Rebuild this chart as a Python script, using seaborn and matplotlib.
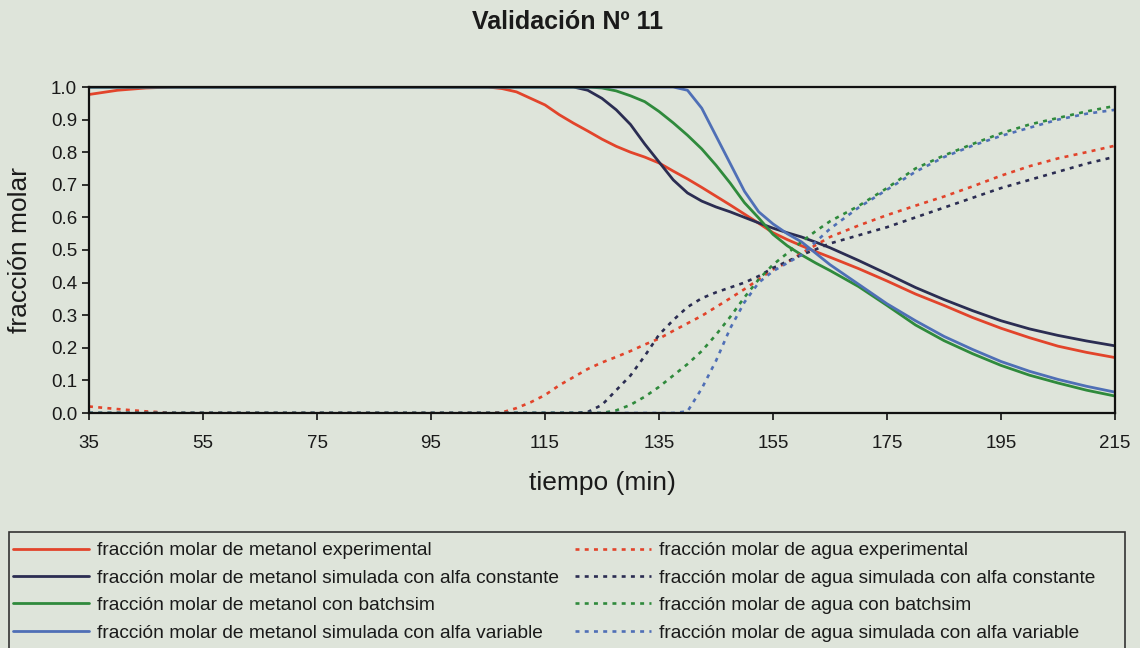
import numpy as np
import pandas as pd
import matplotlib
matplotlib.use("Agg")
import matplotlib.pyplot as plt
from matplotlib.patches import Rectangle
import seaborn as sns

# time grid (min): coarse before 105, finer through the transition, coarse after 165
tiempo = [35, 40, 45, 50, 55, 60, 65, 70, 75, 80, 85, 90, 95, 100, 105,
          107.5, 110, 112.5, 115, 117.5, 120, 122.5, 125, 127.5, 130, 132.5, 135,
          137.5, 140, 142.5, 145, 147.5, 150, 152.5, 155, 157.5, 160, 162.5, 165,
          170, 175, 180, 185, 190, 195, 200, 205, 210, 215]

# methanol mole fraction
metanol_exp = [0.977, 0.990, 0.997, 1.0, 1.0, 1.0, 1.0, 1.0, 1.0, 1.0, 1.0, 1.0, 1.0, 1.0, 1.0,
               0.995, 0.985, 0.965, 0.945, 0.915, 0.889, 0.865, 0.840, 0.818, 0.800, 0.785, 0.767,
               0.742, 0.718, 0.692, 0.665, 0.638, 0.610, 0.582, 0.553, 0.532, 0.513, 0.495, 0.478,
               0.443, 0.405, 0.365, 0.330, 0.293, 0.260, 0.231, 0.205, 0.186, 0.170]
metanol_alfa_cte = [1.0] * 15 + [
               1.0, 1.0, 1.0, 1.0, 1.0, 1.0, 0.990, 0.965, 0.930, 0.885, 0.825, 0.770,
               0.715, 0.675, 0.650, 0.632, 0.617, 0.600, 0.583, 0.567, 0.553, 0.540, 0.524, 0.507,
               0.468, 0.427, 0.385, 0.348, 0.314, 0.283, 0.258, 0.238, 0.221, 0.206]
metanol_batchsim = [1.0] * 15 + [
               1.0, 1.0, 1.0, 1.0, 1.0, 1.0, 1.0, 0.997, 0.988, 0.973, 0.955, 0.925,
               0.890, 0.852, 0.810, 0.760, 0.705, 0.645, 0.598, 0.548, 0.513, 0.485, 0.460, 0.437,
               0.388, 0.330, 0.270, 0.222, 0.182, 0.146, 0.116, 0.092, 0.070, 0.052]
metanol_alfa_var = [1.0] * 15 + [
               1.0, 1.0, 1.0, 1.0, 1.0, 1.0, 1.0, 1.0, 1.0, 1.0, 1.0, 1.0,
               1.0, 0.990, 0.935, 0.850, 0.765, 0.680, 0.617, 0.580, 0.550, 0.525, 0.490, 0.455,
               0.395, 0.335, 0.283, 0.235, 0.195, 0.158, 0.128, 0.103, 0.082, 0.064]

# water mole fraction
agua_exp = [0.020, 0.012, 0.005, 0.0, 0.0, 0.0, 0.0, 0.0, 0.0, 0.0, 0.0, 0.0, 0.0, 0.0, 0.0,
            0.002, 0.015, 0.033, 0.055, 0.085, 0.110, 0.135, 0.155, 0.172, 0.190, 0.210, 0.228,
            0.252, 0.275, 0.298, 0.325, 0.352, 0.380, 0.410, 0.440, 0.462, 0.490, 0.515, 0.540,
            0.575, 0.607, 0.636, 0.664, 0.695, 0.728, 0.757, 0.781, 0.800, 0.820]
agua_alfa_cte = [0.0] * 15 + [
            0.0, 0.0, 0.0, 0.0, 0.0, 0.0, 0.003, 0.025, 0.070, 0.115, 0.175, 0.240,
            0.285, 0.325, 0.352, 0.370, 0.385, 0.400, 0.420, 0.445, 0.465, 0.485, 0.502, 0.520,
            0.545, 0.570, 0.600, 0.630, 0.660, 0.690, 0.715, 0.740, 0.765, 0.786]
agua_batchsim = [0.0] * 15 + [
            0.0, 0.0, 0.0, 0.0, 0.0, 0.0, 0.0, 0.0, 0.008, 0.025, 0.050, 0.080,
            0.115, 0.150, 0.190, 0.240, 0.295, 0.355, 0.410, 0.455, 0.490, 0.525, 0.558, 0.588,
            0.635, 0.690, 0.750, 0.790, 0.825, 0.858, 0.885, 0.905, 0.925, 0.942]
agua_alfa_var = [0.0] * 15 + [
            0.0, 0.0, 0.0, 0.0, 0.0, 0.0, 0.0, 0.0, 0.0, 0.0, 0.0, 0.0,
            0.0, 0.005, 0.075, 0.160, 0.260, 0.340, 0.400, 0.435, 0.460, 0.485, 0.525, 0.565,
            0.630, 0.685, 0.740, 0.785, 0.820, 0.850, 0.875, 0.900, 0.918, 0.930]

etiquetas_metanol = [
    "fracción molar de metanol experimental",
    "fracción molar de metanol simulada con alfa constante",
    "fracción molar de metanol con batchsim",
    "fracción molar de metanol simulada con alfa variable",
]
etiquetas_agua = [
    "fracción molar de agua experimental",
    "fracción molar de agua simulada con alfa constante",
    "fracción molar de agua con batchsim",
    "fracción molar de agua simulada con alfa variable",
]
x_ticks = [35, 55, 75, 95, 115, 135, 155, 175, 195, 215]
y_ticks = [0.0, 0.1, 0.2, 0.3, 0.4, 0.5, 0.6, 0.7, 0.8, 0.9, 1.0]

colores = ["#e2442b", "#2b2d52", "#2f8a3c", "#4f6fb6"]
paper = "#dee4da"

sns.set_theme(style="white", rc={
    "figure.facecolor": paper,
    "axes.facecolor": paper,
    "axes.edgecolor": "#111111",
    "savefig.facecolor": paper,
})
plt.rcParams["font.family"] = ["Liberation Sans", "DejaVu Sans"]

fig = plt.figure(figsize=(11.4, 6.48), dpi=100)
ax = fig.add_axes([89 / 1140, 1 - 413 / 648, 1026 / 1140, 326 / 648])

punteado = (0, (1.5, 2.0))
series_met = [metanol_exp, metanol_alfa_cte, metanol_batchsim, metanol_alfa_var]
series_agua = [agua_exp, agua_alfa_cte, agua_batchsim, agua_alfa_var]

handles_met, handles_agua = [], []
for vals, lab, col in zip(series_met, etiquetas_metanol, colores):
    df = pd.DataFrame({"tiempo": tiempo, "x": vals})
    sns.lineplot(data=df, x="tiempo", y="x", ax=ax, color=col, lw=2.0,
                 label=lab, legend=False)
    handles_met.append(ax.lines[-1])
for vals, lab, col in zip(series_agua, etiquetas_agua, colores):
    df = pd.DataFrame({"tiempo": tiempo, "x": vals})
    sns.lineplot(data=df, x="tiempo", y="x", ax=ax, color=col, lw=1.9,
                 linestyle=punteado, label=lab, legend=False)
    handles_agua.append(ax.lines[-1])

ax.set_xlim(35, 215)
ax.set_ylim(0, 1)
ax.set_xticks(x_ticks)
ax.set_yticks(y_ticks)
ax.set_yticklabels([f"{v:.1f}" for v in y_ticks])
for s in ax.spines.values():
    s.set_visible(True)
    s.set_linewidth(1.6)
    s.set_color("#111111")
ax.tick_params(axis="both", which="major", direction="out", length=5, width=1.2,
               color="#111111", labelsize=13.5, labelcolor="#1a1a1a", bottom=True, left=True)
ax.tick_params(axis="x", pad=11)
ax.tick_params(axis="y", pad=3.5)

ax.set_xlabel("tiempo (min)", fontsize=19, color="#1a1a1a")
ax.xaxis.set_label_coords(0.5, -70 / 326)
ax.xaxis.label.set_va("center")
ax.set_ylabel("fracción molar", fontsize=19, color="#1a1a1a")
ax.yaxis.set_label_coords(-69 / 1026, 0.5)
ax.yaxis.label.set_va("center")

fig.text(0.498, 1 - 22 / 648, "Validación Nº 11", ha="center", va="center",
         fontsize=18, fontweight="bold", color="#1a1a1a")

# legend: two columns inside one outlined box running off the bottom edge
leg_kw = dict(loc="upper left", frameon=False, fontsize=13.8, handlelength=3.95,
              handletextpad=0.42, labelspacing=0.52, borderpad=0, borderaxespad=0,
              labelcolor="#1a1a1a")
fig.legend(handles_met, etiquetas_metanol, bbox_to_anchor=(13 / 1140, 1 - 542 / 648), **leg_kw)
fig.legend(handles_agua, etiquetas_agua, bbox_to_anchor=(575 / 1140, 1 - 542 / 648), **leg_kw)
fig.patches.append(Rectangle((9 / 1140, -0.05), (1125 - 9) / 1140, (648 - 532) / 648 + 0.05,
                             transform=fig.transFigure, fill=False, edgecolor="#333333", lw=1.2))

fig.savefig("out.png", dpi=100)
